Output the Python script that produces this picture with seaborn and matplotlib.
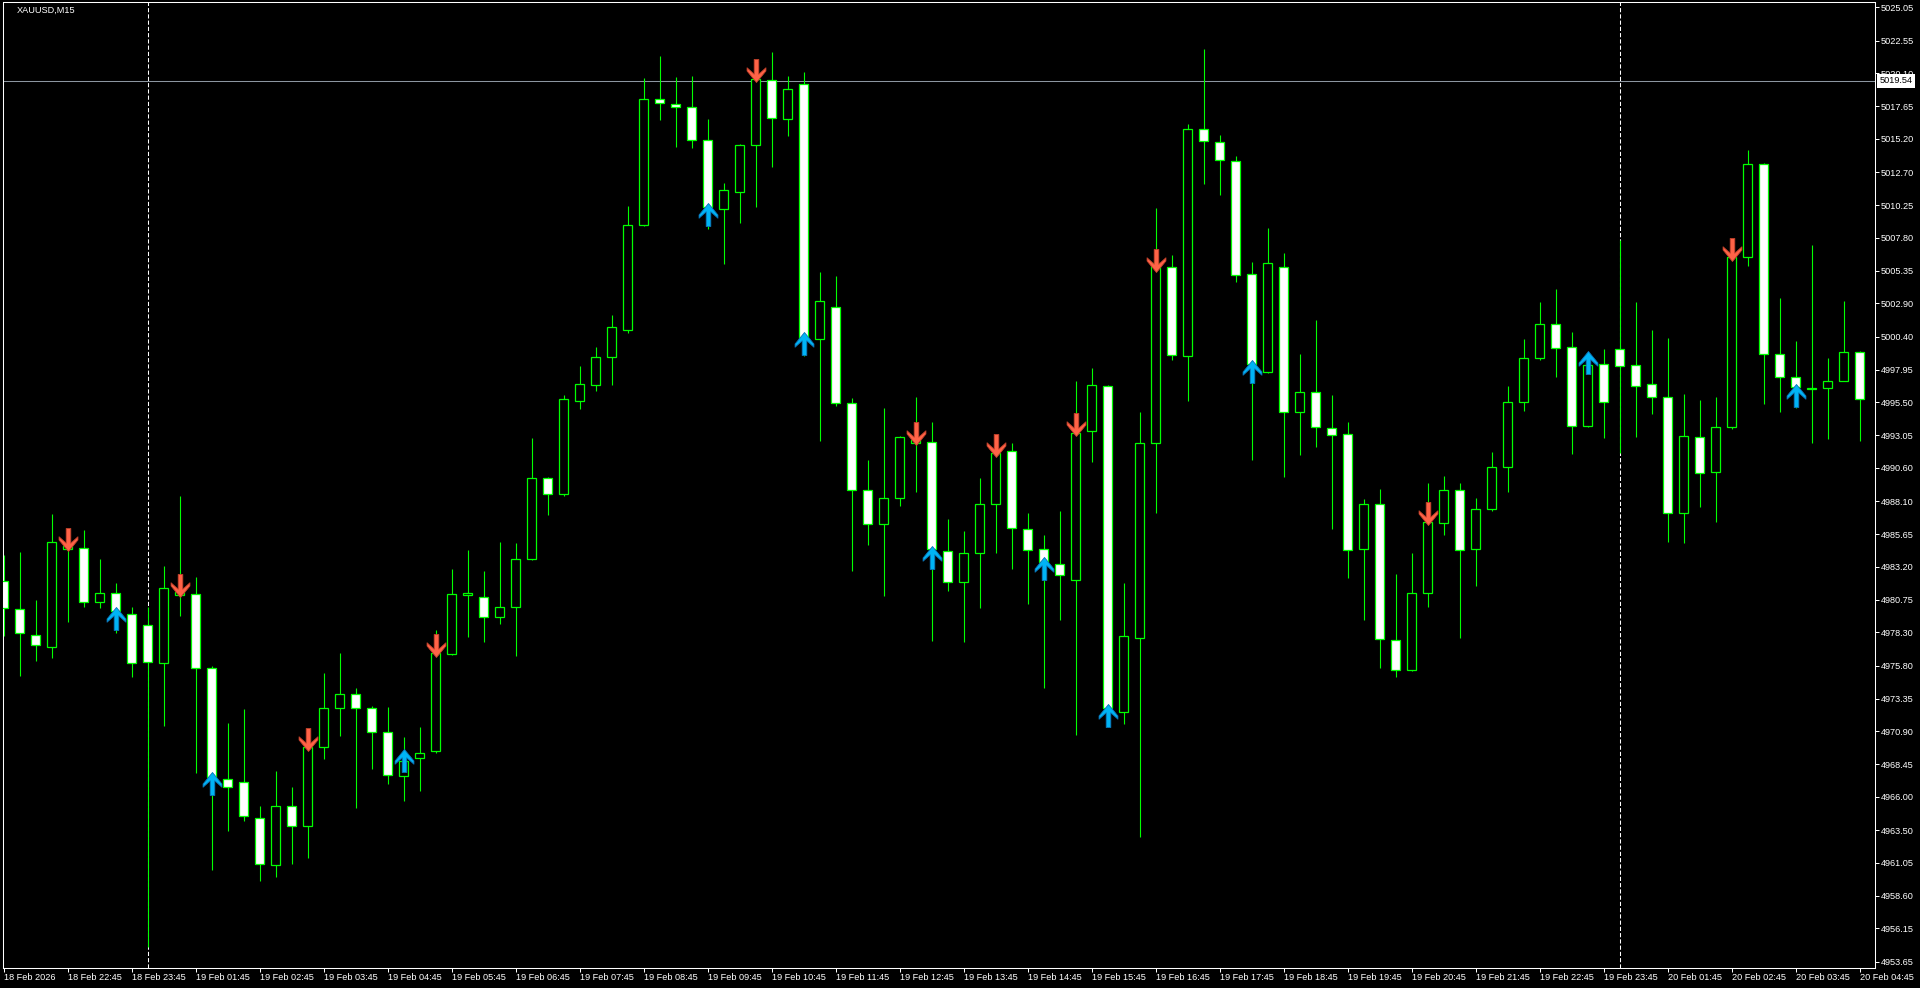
import numpy as np
import pandas as pd
import matplotlib
matplotlib.use("Agg")
import matplotlib.pyplot as plt
from matplotlib.path import Path
import seaborn as sns

# ---------------- data (XAUUSD M15) ----------------
open_ = [4982.12, 4980.02, 4978.08, 4977.18, 4984.56, 4984.59, 4980.59, 4981.22, 4979.65, 4978.83,
         4976.03, 4981.09, 4981.15, 4975.61, 4967.35, 4967.13, 4964.39, 4960.88, 4965.29, 4963.79,
         4969.75, 4972.63, 4973.67, 4972.63, 4970.81, 4967.53, 4968.89, 4969.40, 4976.71, 4981.06,
         4980.91, 4979.44, 4980.19, 4983.76, 4989.83, 4988.63, 4995.63, 4996.83, 4998.89, 5000.94,
         5008.75, 5018.17, 5017.79, 5017.63, 5015.10, 5009.96, 5011.27, 5014.72, 5019.64, 5016.73,
         5019.29, 5000.21, 5002.60, 4995.42, 4988.92, 4986.37, 4988.32, 4992.44, 4992.57, 4984.41,
         4982.04, 4984.21, 4987.88, 4991.84, 4986.05, 4984.56, 4983.43, 4982.19, 4993.34, 4996.75,
         4972.32, 4977.86, 4992.44, 5005.60, 4999.00, 5015.98, 5014.97, 5013.56, 5005.08, 4997.79,
         5005.64, 4994.76, 4996.25, 4993.60, 4993.11, 4984.56, 4987.87, 4977.70, 4975.47, 4981.27,
         4986.51, 4988.92, 4984.56, 4987.50, 4990.63, 4995.50, 4998.85, 5001.39, 4999.62, 4993.76,
         4998.35, 4999.47, 4998.27, 4996.85, 4995.88, 4987.20, 4992.89, 4990.27, 4993.64, 5006.35,
         5013.31, 4999.10, 4997.38, 4996.52, 4996.55, 4997.12, 4999.25]
high = [4984.09, 4984.31, 4980.72, 4987.15, 4985.30, 4985.96, 4983.79, 4981.97, 4980.20, 4980.20,
        4983.26, 4988.50, 4982.42, 4975.78, 4971.50, 4972.57, 4965.31, 4967.93, 4966.73, 4970.00,
        4975.26, 4976.79, 4974.17, 4972.76, 4972.71, 4970.47, 4971.21, 4978.45, 4983.05, 4984.46,
        4982.88, 4985.05, 4985.00, 4992.82, 4989.90, 4996.02, 4998.21, 4999.64, 5002.04, 5010.18,
        5019.77, 5021.40, 5019.83, 5019.90, 5016.73, 5011.91, 5014.80, 5020.50, 5021.72, 5019.90,
        5020.22, 5005.26, 5004.94, 4995.80, 4991.19, 4995.07, 4993.00, 4995.90, 4994.04, 4986.75,
        4985.88, 4989.84, 4992.00, 4992.44, 4987.20, 4985.56, 4987.35, 4997.10, 4998.05, 4996.80,
        4981.97, 4994.76, 5010.04, 5006.50, 5016.30, 5021.93, 5015.52, 5013.90, 5006.01, 5008.56,
        5006.67, 4999.13, 5001.67, 4996.03, 4994.04, 4988.30, 4989.02, 4982.66, 4984.24, 4989.46,
        4989.98, 4989.46, 4988.33, 4991.78, 4996.71, 5000.24, 5003.01, 5003.97, 5000.76, 4998.80,
        4999.49, 5007.65, 5003.01, 5000.91, 5000.32, 4996.13, 4995.68, 4995.90, 5006.60, 5014.38,
        5013.40, 5003.31, 5000.09, 5007.27, 4998.80, 5003.08, 4999.35]
low = [4978.05, 4975.06, 4976.18, 4976.40, 4979.10, 4980.22, 4980.14, 4978.27, 4974.98, 4954.79,
       4971.32, 4979.52, 4967.76, 4960.53, 4963.47, 4964.21, 4959.72, 4960.02, 4961.00, 4961.44,
       4968.80, 4970.57, 4965.15, 4968.11, 4966.99, 4965.71, 4966.46, 4969.30, 4976.64, 4977.97,
       4977.59, 4978.95, 4976.50, 4983.70, 4987.11, 4988.52, 4995.04, 4996.37, 4996.83, 5000.72,
       5008.70, 5016.64, 5014.62, 5014.50, 5008.48, 5005.87, 5008.93, 5010.15, 5013.12, 5015.45,
       4998.96, 4992.63, 4995.20, 4982.92, 4984.80, 4981.03, 4987.77, 4988.83, 4977.68, 4981.38,
       4977.60, 4980.14, 4984.26, 4983.06, 4980.44, 4974.16, 4979.25, 4970.64, 4991.06, 4971.20,
       4971.42, 4962.97, 4987.20, 4998.70, 4995.62, 5011.86, 5011.00, 5004.50, 4991.22, 4997.67,
       4989.95, 4991.59, 4992.15, 4986.02, 4982.38, 4979.25, 4975.66, 4974.97, 4975.40, 4980.18,
       4985.61, 4977.91, 4981.74, 4987.40, 4988.83, 4994.82, 4998.66, 4997.42, 4991.66, 4993.64,
       4992.86, 4991.69, 4992.93, 4994.65, 4985.08, 4985.01, 4987.70, 4986.58, 4993.49, 5005.72,
       4995.40, 4994.80, 4995.06, 4992.48, 4992.74, 4997.10, 4992.63]
close = [4980.10, 4978.23, 4977.33, 4985.04, 4984.76, 4980.59, 4981.22, 4979.92, 4976.03, 4976.10,
         4981.59, 4981.30, 4975.61, 4967.50, 4966.71, 4964.54, 4960.95, 4965.31, 4963.79, 4969.75,
         4972.62, 4973.67, 4972.63, 4970.84, 4967.60, 4968.65, 4969.31, 4976.79, 4981.15, 4981.28,
         4979.44, 4980.16, 4983.76, 4989.83, 4988.63, 4995.73, 4996.85, 4998.89, 5001.13, 5008.75,
         5018.17, 5017.88, 5017.63, 5015.10, 5010.15, 5011.36, 5014.72, 5019.67, 5016.80, 5018.97,
         5000.17, 5003.11, 4995.42, 4988.92, 4986.43, 4988.32, 4992.89, 4992.66, 4984.51, 4982.05,
         4984.21, 4987.88, 4991.69, 4986.08, 4984.44, 4983.58, 4982.57, 4993.23, 4996.78, 4972.62,
         4978.00, 4992.44, 5005.90, 4999.05, 5015.98, 5015.07, 5013.60, 5005.03, 4998.36, 5005.89,
         4994.76, 4996.25, 4993.64, 4993.05, 4984.49, 4987.87, 4977.80, 4975.47, 4981.27, 4986.57,
         4988.92, 4984.49, 4987.50, 4990.63, 4995.50, 4998.85, 5001.39, 4999.59, 4993.76, 4998.30,
         4995.55, 4998.24, 4996.75, 4995.88, 4987.20, 4992.96, 4990.20, 4993.64, 5006.40, 5013.31,
         4999.10, 4997.38, 4996.63, 4996.52, 4997.08, 4999.25, 4995.73]

sell_bars = [4, 11, 19, 27, 47, 57, 62, 67, 72, 89, 108]
sell_prices = [4984.38, 4980.97, 4969.43, 4976.45, 5019.45, 4992.34, 4991.44, 4992.99, 5005.25, 4986.32, 5006.10]
buy_bars = [7, 13, 25, 44, 50, 58, 65, 69, 78, 99, 112]
buy_prices = [4980.22, 4967.88, 4969.55, 5010.41, 5000.75, 4984.77, 4983.96, 4972.94, 4998.66, 4999.37, 4996.88]

day_start_bars = [9, 101]
marker_price = 5019.54
symbol_label = "XAUUSD,M15"

price_ticks = [5025.05, 5022.55, 5020.10, 5017.65, 5015.20, 5012.70, 5010.25, 5007.80, 5005.35, 5002.90,
               5000.40, 4997.95, 4995.50, 4993.05, 4990.60, 4988.10, 4985.65, 4983.20, 4980.75, 4978.30,
               4975.80, 4973.35, 4970.90, 4968.45, 4966.00, 4963.50, 4961.05, 4958.60, 4956.15, 4953.65]
time_labels = ["18 Feb 2026", "18 Feb 22:45", "18 Feb 23:45", "19 Feb 01:45", "19 Feb 02:45",
               "19 Feb 03:45", "19 Feb 04:45", "19 Feb 05:45", "19 Feb 06:45", "19 Feb 07:45",
               "19 Feb 08:45", "19 Feb 09:45", "19 Feb 10:45", "19 Feb 11:45", "19 Feb 12:45",
               "19 Feb 13:45", "19 Feb 14:45", "19 Feb 15:45", "19 Feb 16:45", "19 Feb 17:45",
               "19 Feb 18:45", "19 Feb 19:45", "19 Feb 20:45", "19 Feb 21:45", "19 Feb 22:45",
               "19 Feb 23:45", "20 Feb 01:45", "20 Feb 02:45", "20 Feb 03:45", "20 Feb 04:45"]

# ---------------- style ----------------
sns.set_theme(style="ticks", rc={
    "axes.facecolor": "black", "figure.facecolor": "black",
    "axes.edgecolor": "white", "axes.grid": False,
    "xtick.color": "white", "ytick.color": "white",
    "text.color": "white",
})
plt.rcParams["font.family"] = ["Liberation Sans", "DejaVu Sans"]

GREEN = "#00FF00"
FS = 6.6

df = pd.DataFrame({"open": open_, "high": high, "low": low, "close": close})
df["bar"] = np.arange(len(df))
df["bull"] = df["close"] >= df["open"]

W, H = 1920, 988
L, R, T, B = 2.5, 1874.5, 2.5, 967.5
fig = plt.figure(figsize=(W / 100, H / 100), dpi=100, facecolor="black")
ax = fig.add_axes([L / W, 1 - B / H, (R - L) / W, (B - T) / H])
ax.set_facecolor("black")

bar_px, x0_px = 16.0, 3.6
ax.set_xlim((L - x0_px) / bar_px, (R - x0_px) / bar_px)
ppu, ref_y, ref_p = 13.37, 7.3, 5025.05
ax.set_ylim(ref_p - (B - ref_y) / ppu, ref_p + (ref_y - T) / ppu)

# day separators
for b in day_start_bars:
    ax.axvline(b, color="white", lw=0.75, ls=(0, (4, 2)), zorder=1)

# price line
ax.axhline(marker_price, color="#8c96a0", lw=0.75, zorder=1.5)

# wicks
ax.vlines(df["bar"], df["low"], df["high"], colors=GREEN, linewidth=0.8, zorder=2)

# bodies
heights = (df["close"] - df["open"]).abs().clip(lower=0.02)
bottoms = np.minimum(df["open"], df["close"])
faces = np.where(df["bull"], "black", "white")
ax.bar(df["bar"], heights, bottom=bottoms, width=0.6, color=faces,
       edgecolor=GREEN, linewidth=0.9, zorder=3)

# arrows (tip at origin)
down_verts = [(-0.1, 1.0), (0.1, 1.0), (0.1, 0.36), (0.41, 0.64), (0.41, 0.5), (0.0, 0.0),
              (-0.41, 0.5), (-0.41, 0.64), (-0.1, 0.36), (-0.1, 1.0)]
codes = [Path.MOVETO] + [Path.LINETO] * (len(down_verts) - 2) + [Path.CLOSEPOLY]
down_arrow = Path(down_verts, codes)
up_arrow = Path([(x, -y) for x, y in down_verts], codes)

sig_sell = pd.DataFrame({"bar": sell_bars, "price": sell_prices})
sig_buy = pd.DataFrame({"bar": buy_bars, "price": buy_prices})
sns.scatterplot(data=sig_sell, x="bar", y="price", marker=down_arrow, s=1096,
                color="#FF6347", edgecolor="#c2402a", linewidth=0.6, ax=ax, legend=False, zorder=5)
sns.scatterplot(data=sig_buy, x="bar", y="price", marker=up_arrow, s=1096,
                color="#00B4F5", edgecolor="#0a74b8", linewidth=0.6, ax=ax, legend=False, zorder=5)

# axes / ticks
ax.set_xlabel("")
ax.set_ylabel("")
for s in ax.spines.values():
    s.set_color("white")
    s.set_linewidth(0.75)

ax.yaxis.tick_right()
ax.set_yticks(price_ticks)
ax.set_yticklabels([f"{v:.2f}" for v in price_ticks])
ax.tick_params(axis="y", which="major", direction="out", length=2.9, width=0.72,
               colors="white", labelsize=FS, pad=1.4, right=True, left=False,
               labelright=True, labelleft=False)

tick_bars = [4 * i for i in range(len(time_labels))]
ax.set_xticks(tick_bars)
ax.set_xticklabels(time_labels, ha="left")
ax.tick_params(axis="x", which="major", direction="out", length=2.9, width=0.72,
               colors="white", labelsize=FS, pad=0.8, bottom=True, top=False)

# price label box
ax.annotate(f"{marker_price:.2f}", xy=(1, marker_price), xycoords=ax.get_yaxis_transform(),
            xytext=(3.4, 0), textcoords="offset points", ha="left", va="center",
            color="black", fontsize=FS,
            bbox=dict(boxstyle="square,pad=0.25", fc="white", ec="white", lw=0),
            zorder=10, annotation_clip=False)

# symbol caption
fig.text(17 / W, 1 - 10.7 / H, symbol_label, color="white", fontsize=FS, ha="left", va="center")

fig.savefig("out.png", dpi=100, facecolor="black")
